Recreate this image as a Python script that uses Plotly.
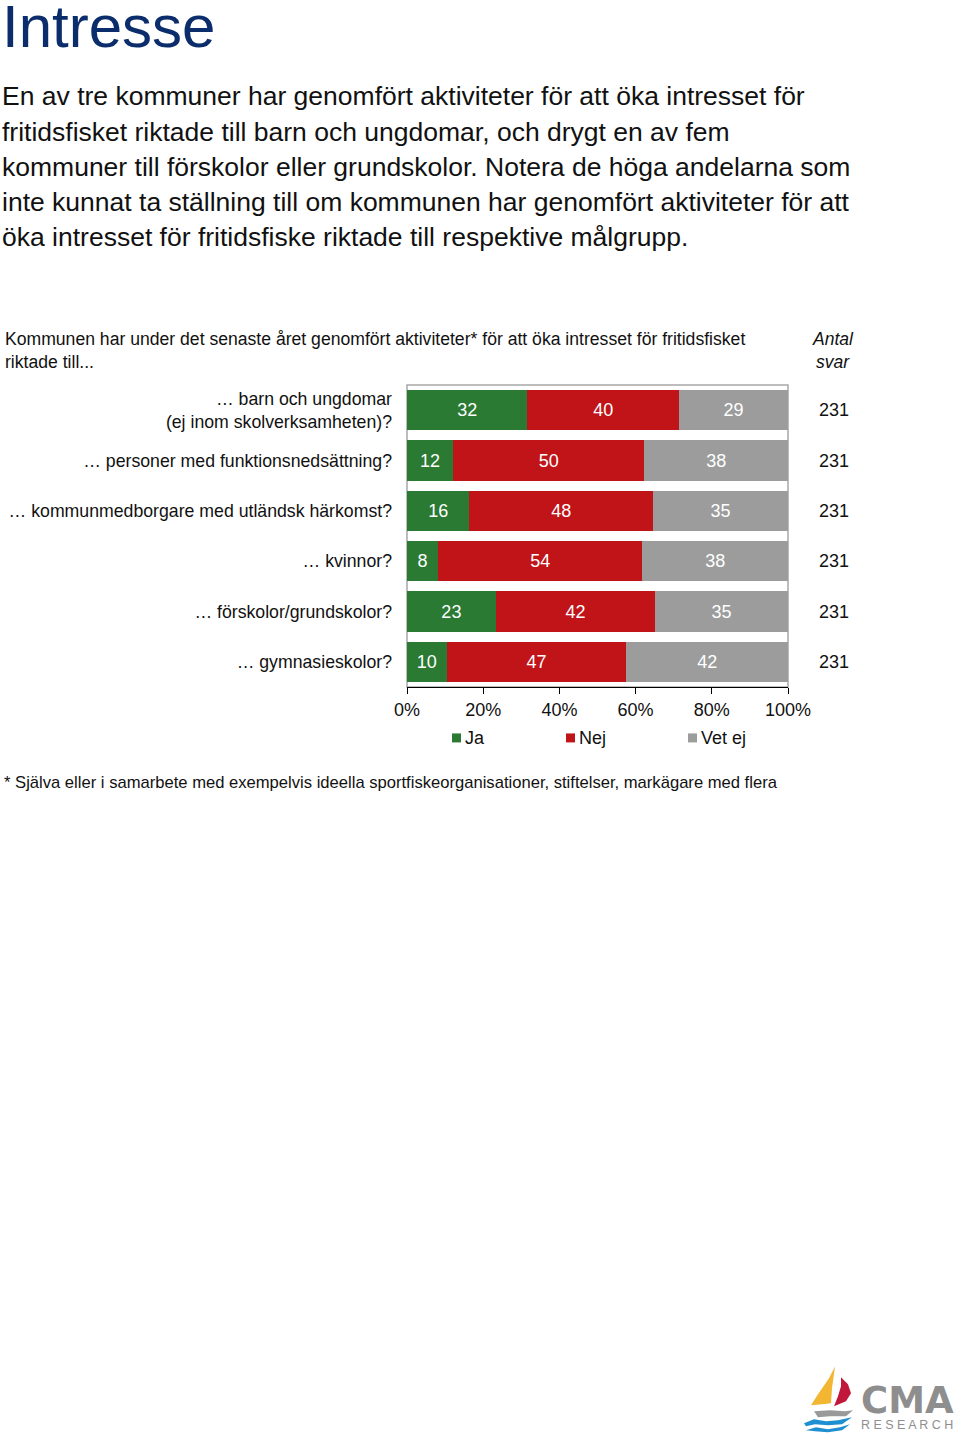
import plotly.graph_objects as go

# ---------------- data ----------------
categories = [
    "… barn och ungdomar<br>(ej inom skolverksamheten)?",
    "… personer med funktionsnedsättning?",
    "… kommunmedborgare med utländsk härkomst?",
    "… kvinnor?",
    "… förskolor/grundskolor?",
    "… gymnasieskolor?",
]
# shares (%); labels show them rounded
ja = [31.6, 12.1, 16.4, 8.1, 23.3, 10.4]
nej = [39.8, 50.2, 48.2, 53.7, 41.8, 47.2]
vet_ej = [28.6, 37.7, 35.4, 38.2, 34.9, 42.4]
antal_svar = [231, 231, 231, 231, 231, 231]
series_names = ["Ja", "Nej", "Vet ej"]
series_values = [ja, nej, vet_ej]
colors = ["#2a7a33", "#c01418", "#9c9c9c"]
x_ticks = [0, 20, 40, 60, 80, 100]
x_tick_labels = ["0%", "20%", "40%", "60%", "80%", "100%"]

title = "Intresse"
paragraph = [
    "En av tre kommuner har genomfört aktiviteter för att öka intresset för",
    "fritidsfisket riktade till barn och ungdomar, och drygt en av fem",
    "kommuner till förskolor eller grundskolor. Notera de höga andelarna som",
    "inte kunnat ta ställning till om kommunen har genomfört aktiviteter för att",
    "öka intresset för fritidsfiske riktade till respektive målgrupp.",
]
question = [
    "Kommunen har under det senaste året genomfört aktiviteter* för att öka intresset för fritidsfisket",
    "riktade till...",
]
antal_header = ["Antal", "svar"]
footnote = "* Själva eller i samarbete med exempelvis ideella sportfiskeorganisationer, stiftelser, markägare med flera"

# ---------------- layout geometry ----------------
W, H = 960, 1439
L, R, T, B = 407, 788, 385, 687.5
FONT = "Liberation Sans, Arial, sans-serif"


def px(x):
    return (x - L) / (R - L)


def py(y):
    return (B - y) / (B - T)


fig = go.Figure()
for name, vals, col in zip(series_names, series_values, colors):
    fig.add_trace(go.Bar(
        y=categories, x=vals, name=name, orientation="h",
        marker=dict(color=col, line=dict(width=0)),
        texttemplate="%{x:.0f}", textposition="inside",
        insidetextanchor="middle", textangle=0, constraintext="none",
        textfont=dict(color="white", size=18, family=FONT),
        showlegend=False, hoverinfo="skip",
    ))

ann = []
ann.append(dict(text=title, x=px(0), y=py(26), xref="paper", yref="paper",
                xanchor="left", yanchor="middle", showarrow=False,
                font=dict(size=60, color="#0b2d6b", family=FONT)))
for i, line in enumerate(paragraph):
    ann.append(dict(text=line, x=px(0), y=py(96 + i * 35.2), xref="paper", yref="paper",
                    xanchor="left", yanchor="middle", showarrow=False,
                    font=dict(size=26.5, color="#111111", family=FONT)))
for i, line in enumerate(question):
    ann.append(dict(text=line, x=px(3), y=py(339 + i * 23), xref="paper", yref="paper",
                    xanchor="left", yanchor="middle", showarrow=False,
                    font=dict(size=17.6, color="#111111", family=FONT)))
for i, line in enumerate(antal_header):
    ann.append(dict(text="<i>" + line + "</i>", x=px(833), y=py(339 + i * 23), xref="paper", yref="paper",
                    xanchor="center", yanchor="middle", showarrow=False,
                    font=dict(size=17.5, color="#111111", family=FONT)))
for cat, n in zip(categories, antal_svar):
    ann.append(dict(text=str(n), x=px(834), y=cat, xref="paper", yref="y",
                    xanchor="center", yanchor="middle", showarrow=False,
                    font=dict(size=18, color="#111111", family=FONT)))
# legend (manual)
leg_sq = [452, 566, 688]
shapes = []
for name, col, sx in zip(series_names, colors, leg_sq):
    shapes.append(dict(type="rect", xref="paper", yref="paper",
                       x0=px(sx), x1=px(sx + 9), y0=py(743), y1=py(734),
                       fillcolor=col, line=dict(width=0)))
    ann.append(dict(text=name, x=px(sx + 11), y=py(739), xref="paper", yref="paper",
                    xanchor="left", yanchor="middle", showarrow=False,
                    font=dict(size=18, color="#111111", family=FONT)))
ann.append(dict(text=footnote, x=px(2), y=py(783), xref="paper", yref="paper",
                xanchor="left", yanchor="middle", showarrow=False,
                font=dict(size=16.6, color="#111111", family=FONT)))

# plot frame
shapes.append(dict(type="rect", xref="paper", yref="paper", x0=0, x1=1, y0=0, y1=1,
                   line=dict(color="#a8a8a8", width=1.5), layer="below"))


# logo
def path(pts, close=True):
    s = "M" + " L".join(f"{px(x):.5f},{py(y):.5f}" for x, y in pts)
    return s + (" Z" if close else "")


shapes.append(dict(type="path", xref="paper", yref="paper",
                   path=path([(835, 1368), (829, 1380), (818, 1396), (811, 1407), (822, 1406), (831, 1405), (832, 1390)]),
                   fillcolor="#f2b632", line=dict(width=0)))
shapes.append(dict(type="path", xref="paper", yref="paper",
                   path=path([(841, 1379), (848, 1386), (851, 1395), (846, 1403), (834, 1408), (838, 1398), (841, 1388)]),
                   fillcolor="#c0173a", line=dict(width=0)))
shapes.append(dict(type="path", xref="paper", yref="paper",
                   path=path([(814, 1413), (830, 1412), (845, 1413), (853, 1412), (846, 1418), (830, 1418), (818, 1419)]),
                   fillcolor="#9a9a9a", line=dict(width=0)))
shapes.append(dict(type="path", xref="paper", yref="paper",
                   path=path([(804, 1425), (814, 1421), (826, 1423), (838, 1422), (852, 1419), (842, 1426), (828, 1427), (815, 1426), (806, 1428)]),
                   fillcolor="#1e8fd0", line=dict(width=0)))
shapes.append(dict(type="path", xref="paper", yref="paper",
                   path=path([(806, 1432), (816, 1429), (828, 1431), (840, 1429), (850, 1426), (842, 1432), (828, 1434), (815, 1433)]),
                   fillcolor="#1e8fd0", line=dict(width=0)))
ann.append(dict(
    text=("<span style='font-size:37px;font-family:DejaVu Sans'><b>CMA</b></span><br>"
          "<span style='font-size:12.5px'>R E S E A R C H</span>"),
    x=px(859), y=py(1436), xref="paper", yref="paper", align="left",
    xanchor="left", yanchor="bottom", showarrow=False,
    font=dict(size=12, color="#8e8e8e", family=FONT)))

fig.update_layout(
    width=W, height=H,
    margin=dict(l=L, r=W - R, t=T, b=H - B, pad=0, autoexpand=False),
    paper_bgcolor="white", plot_bgcolor="white",
    barmode="stack", bargap=0.2,
    font=dict(family=FONT, color="#111111"),
    annotations=ann, shapes=shapes,
    xaxis=dict(range=[0, 100], tickmode="array", tickvals=x_ticks, ticktext=x_tick_labels,
               showgrid=False, zeroline=False, showline=True, linecolor="black", linewidth=1,
               ticks="outside", ticklen=6, tickcolor="black", tickwidth=1, automargin=False,
               tickfont=dict(size=18, color="#111111", family=FONT), fixedrange=True),
    yaxis=dict(autorange="reversed", showgrid=False, zeroline=False, showline=False, ticks="",
               ticklabelstandoff=14, automargin=False,
               tickfont=dict(size=17.7, color="#111111", family=FONT), fixedrange=True),
)

fig.write_html("out.html")
